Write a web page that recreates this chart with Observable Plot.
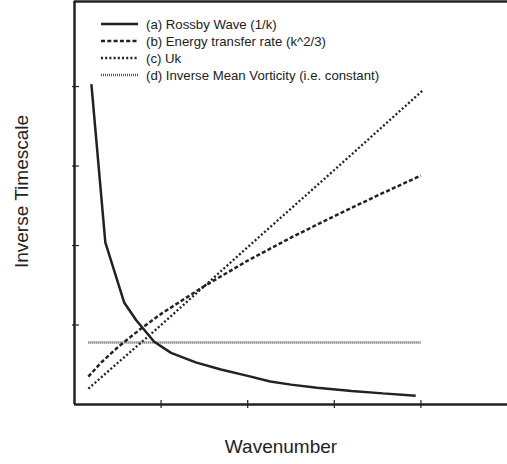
<!DOCTYPE html>
<html><head><meta charset="utf-8">
<script src="https://cdn.jsdelivr.net/npm/d3@7"></script>
<script src="https://cdn.jsdelivr.net/npm/@observablehq/plot@0.6"></script>
<style>body{margin:0;background:#fff} #chart{width:507px;height:464px}</style>
</head><body><div id="chart"></div>
<script>
// ---- data ----
const xTicks = [1, 2, 3, 4];
const yTicks = [1, 2, 3, 4];

const rossbyK = [0.195, 0.356, 0.575, 0.713, 0.92, 1.115, 1.4, 1.69, 2.0, 2.26, 2.5, 2.8, 3.2, 3.56, 3.94];
const rossbyV = [4.03, 2.04, 1.28, 1.06, 0.79, 0.65, 0.53, 0.44, 0.36, 0.29, 0.25, 0.21, 0.17, 0.14, 0.11];

const energyK = [0.16, 0.3, 0.5, 0.75, 1, 1.5, 2, 2.5, 3, 3.5, 4];
const energyV = [0.35, 0.52, 0.72, 0.94, 1.14, 1.49, 1.81, 2.10, 2.37, 2.63, 2.88];

const ukK = [0.16, 1, 2, 3, 4.03];
const ukV = [0.2, 1.0, 1.98, 2.95, 3.96];

const constK = [0.16, 4.0];
const constV = [0.78, 0.78];

const legendLabels = [
  "(a) Rossby Wave (1/k)",
  "(b) Energy transfer rate (k^2/3)",
  "(c) Uk",
  "(d) Inverse Mean Vorticity (i.e. constant)"
];
const xLabel = "Wavenumber";
const yLabel = "Inverse Timescale";

// ---- build tables ----
const zip = (ks, vs) => ks.map((k, i) => ({k, v: vs[i]}));
const rossby = zip(rossbyK, rossbyV);
const energy = zip(energyK, energyV);
const uk = zip(ukK, ukV);
const constant = zip(constK, constV);

const ink = "#222";
const styles = [
  {stroke: ink, strokeWidth: 2.5, dash: null},
  {stroke: ink, strokeWidth: 2.5, dash: "4,2.3"},
  {stroke: ink, strokeWidth: 2.3, dash: "2,2.2"},
  {stroke: "#555", strokeWidth: 2.5, dash: "1,1"}
];
const line = (d, s) => Plot.line(d, {x: "k", y: "v", stroke: s.stroke, strokeWidth: s.strokeWidth,
  strokeDasharray: s.dash, strokeLinecap: "butt", strokeLinejoin: "miter"});

const yMax = 5.07;

const plot = Plot.plot({
  width: 507, height: 464,
  marginLeft: 74, marginRight: 0, marginTop: 1, marginBottom: 60,
  style: {fontFamily: "'Liberation Sans', Arial, sans-serif", background: "#fff", color: ink},
  x: {domain: [0, 5], axis: null},
  y: {domain: [0, yMax], axis: null},
  marks: [
    Plot.ruleY([0], {stroke: ink, strokeWidth: 2.5}),
    Plot.ruleX([0], {stroke: ink, strokeWidth: 2.5}),
    Plot.ruleY([yMax], {stroke: ink, strokeWidth: 2.5}),
    Plot.ruleX(xTicks, {y1: 0, y2: 0, insetTop: -4, insetBottom: -4, stroke: ink, strokeWidth: 1.2}),
    Plot.ruleY(yTicks, {x1: 0, x2: 0, insetLeft: -2, insetRight: -5, stroke: ink, strokeWidth: 1.2}),
    line(constant, styles[3]),
    line(uk, styles[2]),
    line(energy, styles[1]),
    line(rossby, styles[0]),
    Plot.text([xLabel], {frameAnchor: "bottom", lineAnchor: "middle", textAnchor: "middle", dy: 42, dx: -10, fontSize: 19, fill: ink}),
    Plot.text([yLabel], {frameAnchor: "left", lineAnchor: "middle", textAnchor: "middle", rotate: -90, dx: -52.5, dy: -11.5, fontSize: 19, fill: ink})
  ]
});

// legend inside the plot
const svg = d3.select(plot);
const lg = svg.append("g").attr("font-family", "'Liberation Sans', Arial, sans-serif")
  .attr("font-size", 13.2).attr("text-anchor", "start");
const rowY = [24, 41, 58, 75];
legendLabels.forEach((t, i) => {
  const s = styles[i];
  lg.append("line").attr("x1", 101).attr("x2", 138).attr("y1", rowY[i]).attr("y2", rowY[i])
    .attr("stroke", s.stroke).attr("stroke-width", s.strokeWidth).attr("stroke-dasharray", s.dash)
    .attr("stroke-linecap", "butt");
  lg.append("text").attr("x", 146).attr("y", rowY[i]).attr("dy", "0.35em").attr("fill", ink).text(t);
});

document.getElementById("chart").appendChild(plot);
</script>
</body></html>
